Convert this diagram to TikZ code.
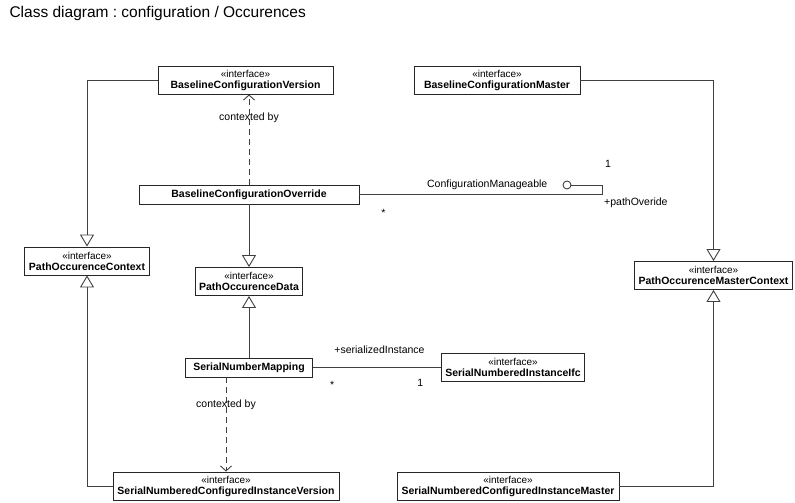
\documentclass[tikz,border=0pt]{standalone}
\usepackage{fontspec}
\setmainfont{Liberation Sans}
\usetikzlibrary{arrows.meta,positioning}
\definecolor{linecolor}{gray}{0.25}
\definecolor{boxcolor}{gray}{0.15}
\tikzset{
	iface/.style={
		rectangle,
		draw=boxcolor,
		line width=0.9pt,
		fill=white,
		align=center,
		inner xsep=4pt,
		inner ysep=1pt,
		minimum height=28pt
	},
	klass/.style={
		rectangle,
		draw=boxcolor,
		line width=0.9pt,
		fill=white,
		font=\bfseries\fontsize{10.5}{12}\selectfont,
		inner ysep=1pt,
		minimum height=19pt
	},
	generalise/.style={
		draw=linecolor,
		line width=0.9pt,
		-{Triangle[open,length=12pt,width=14pt]}
	},
	depend/.style={
		draw=linecolor,
		line width=0.9pt,
		dash pattern=on 6pt off 4pt,
		-{Straight Barb[length=5pt,width=11pt]}
	},
	assoc/.style={
		draw=linecolor,
		line width=0.9pt
	},
	lbl/.style={
		font=\fontsize{10.5}{12}\selectfont,
		inner sep=1pt
	},
	lolly/.style={
		circle,
		draw=linecolor,
		line width=0.9pt,
		fill=white,
		inner sep=0pt,
		minimum size=8pt
	},
}
\newcommand{\iname}[1]{{\fontsize{10}{11}\selectfont «interface»}\\[-1pt]{\bfseries\fontsize{10.5}{12}\selectfont #1}}

\begin{document}
\frenchspacing
\begin{tikzpicture}[x=1pt,y=-1pt]
			\useasboundingbox (0,0) rectangle (795,503);
			\node[anchor=base west,font=\fontsize{15.5}{18}\selectfont] (title) at (6,18) {Class diagram : configuration / Occurences};
			\node[iface,minimum width=175pt] (bcv) at (245.5,80) {\iname{BaselineConfigurationVersion}};
			\node[iface,minimum width=166pt] (bcm) at (497,80) {\iname{BaselineConfigurationMaster}};
			\node[klass,minimum width=220pt] (bco) at (249,194.5) {BaselineConfigurationOverride};
			\node[iface,minimum width=124pt] (poc) at (87,261) {\iname{PathOccurenceContext}};
			\node[iface,minimum width=106pt] (pod) at (249,281.5) {\iname{PathOccurenceData}};
			\node[iface,minimum width=157pt] (pomc) at (713.5,275.5) {\iname{PathOccurenceMasterContext}};
			\node[klass,minimum width=127pt] (snm) at (249,367.5) {SerialNumberMapping};
			\node[iface,minimum width=142pt] (snifc) at (513,367.5) {\iname{SerialNumberedInstanceIfc}};
			\node[iface,minimum width=226pt] (snciv) at (226,486) {\iname{SerialNumberedConfiguredInstanceVersion}};
			\node[iface,minimum width=222pt] (sncim) at (508,486) {\iname{SerialNumberedConfiguredInstanceMaster}};
			\node[lolly] (cm) at (567,185) {};
			\node[lbl,left=14pt of cm] (cmlabel) {ConfigurationManageable};
			\coordinate (cmturn) at (602,185);

			\draw[generalise] (bcv.west) -| (poc.north);
			\draw[generalise] (snciv.west) -| (poc.south);
			\draw[generalise] (bcm.east) -| (pomc.north);
			\draw[generalise] (sncim.east) -| (pomc.south);
			\draw[generalise] (bco.south) -- (bco.south |- pod.north);
			\draw[generalise] (snm.north) -- (snm.north |- pod.south);
			\draw[depend] (bco.north) -- (bco.north |- bcv.south) node[lbl,pos=0.74] {contexted by};
			\draw[depend] (snm.south -| snciv.north) -- (snciv.north) node[lbl,pos=0.29] {contexted by};
			\draw[assoc] (snm.east) -- (snifc.west)
				node[lbl,pos=0.52,above=12pt] {+serializedInstance}
				node[lbl,pos=0.15,below=12pt] {*}
				node[lbl,pos=0.84,below=10pt] {1};
			\draw[assoc] (bco.east) -| (cmturn) -- (cm.east);
			\node[lbl,anchor=west] at ([shift={(2,-21)}]cmturn) {1};
			\node[lbl,anchor=west] at ([shift={(1,18)}]cmturn) {+pathOveride};
			\node[lbl] at ([shift={(24,18)}]bco.east) {*};
\end{tikzpicture}
\end{document}
